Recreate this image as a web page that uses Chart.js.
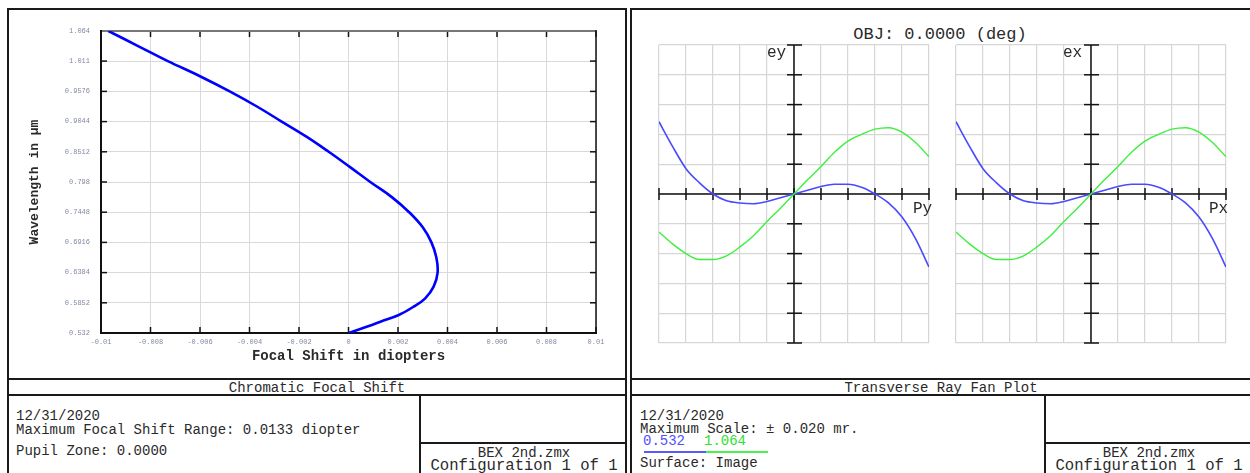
<!DOCTYPE html>
<html lang="en">
<head>
<meta charset="UTF-8">
<title>Chromatic Focal Shift / Transverse Ray Fan Plot</title>
<script src="https://cdn.jsdelivr.net/npm/chart.js"></script>
<style>
  body {
    margin: 0;
    width: 1250px;
    height: 473px;
    overflow: hidden;
    position: relative;
    background: #fff;
    font-family: "Liberation Mono", "DejaVu Sans Mono", monospace;
    color: #2a2a2a;
  }
  .box { position: absolute; border: 2px solid #1a1a1a; box-sizing: border-box; }
  .hl { position: absolute; height: 2px; background: #1a1a1a; }
  .vl { position: absolute; width: 2px; background: #1a1a1a; }
  .txt { position: absolute; font-size: 14px; line-height: 14px; white-space: pre; }
  .cfg { font-size: 15.6px; line-height: 15px; }
  .lbl { position: absolute; font-size: 16px; line-height: 16px; white-space: pre; }
  canvas { position: absolute; }
</style>
</head>
<body>

<!-- left window: chromatic focal shift -->
<div class="box" style="left:7px; top:8px; width:620px; height:480px;"></div>
<div class="hl" style="left:7px; top:378px; width:620px;"></div>
<div class="hl" style="left:7px; top:394px; width:620px;"></div>
<div class="vl" style="left:419px; top:394px; height:80px;"></div>
<div class="hl" style="left:419px; top:442px; width:208px;"></div>
<div class="txt" style="left:7px; width:620px; text-align:center; top:381px;">Chromatic Focal Shift</div>
<div class="txt" style="left:16px; top:409px;">12/31/2020</div>
<div class="txt" style="left:16px; top:423px;">Maximum Focal Shift Range: 0.0133 diopter</div>
<div class="txt" style="left:16px; top:444px;">Pupil Zone: 0.0000</div>
<div class="txt" style="left:421px; width:206px; text-align:center; top:446px;">BEX 2nd.zmx</div>
<div class="txt cfg" style="left:421px; width:206px; text-align:center; top:459px;">Configuration 1 of 1</div>
<canvas id="shiftChart" width="617" height="369" style="left:8px; top:9px;"></canvas>

<!-- right window: ray fan -->
<div class="box" style="left:630px; top:8px; width:630px; height:480px;"></div>
<div class="hl" style="left:630px; top:378px; width:622px;"></div>
<div class="hl" style="left:630px; top:394px; width:622px;"></div>
<div class="vl" style="left:1044px; top:394px; height:80px;"></div>
<div class="hl" style="left:1044px; top:442px; width:210px;"></div>
<div class="txt" style="left:630px; width:622px; text-align:center; top:381px;">Transverse Ray Fan Plot</div>
<div class="txt" style="left:640px; top:409px;">12/31/2020</div>
<div class="txt" style="left:640px; top:422px;">Maximum Scale: &plusmn; 0.020 mr.</div>
<div class="txt" style="left:643px; top:434px; color:#4f4fff;">0.532</div>
<div class="txt" style="left:704px; top:434px; color:#2fe02f;">1.064</div>
<div style="position:absolute; left:644px; top:451px; width:62px; height:2px; background:#5a5aff;"></div>
<div style="position:absolute; left:706px; top:451px; width:62px; height:2px; background:#4cf04c;"></div>
<div class="txt" style="left:640px; top:456px;">Surface: Image</div>
<div class="txt" style="left:1046px; width:206px; text-align:center; top:446px;">BEX 2nd.zmx</div>
<div class="txt cfg" style="left:1046px; width:206px; text-align:center; top:459px;">Configuration 1 of 1</div>

<div class="txt" style="left:640px; width:600px; text-align:center; top:26px; font-size:17px; line-height:17px;">OBJ: 0.0000 (deg)</div>
<canvas id="fanY" width="290" height="318" style="left:649px; top:35px;"></canvas>
<canvas id="fanX" width="290" height="318" style="left:946px; top:35px;"></canvas>
<div class="lbl" style="left:767px; top:45px;">ey</div>
<div class="lbl" style="left:913px; top:201px;">Py</div>
<div class="lbl" style="left:1063px; top:45px;">ex</div>
<div class="lbl" style="left:1209px; top:201px;">Px</div>

<script>
// wavelength axis (um) and focal shift axis (diopters)
const waveTicks = ['0.532', '0.5852', '0.6384', '0.6916', '0.7448', '0.798', '0.8512', '0.9044', '0.9576', '1.011', '1.064'];
const shiftTicks = ['-0.01', '-0.008', '-0.006', '-0.004', '-0.002', '0', '0.002', '0.004', '0.006', '0.008', '0.01'];

const wavelength = [1.064, 1.0375, 1.011, 0.9843, 0.9576, 0.931, 0.9044, 0.8778, 0.8512, 0.8246, 0.798,
  0.7714, 0.7448, 0.7182, 0.6916, 0.665, 0.6384, 0.6136, 0.5931, 0.5783, 0.5637, 0.5519, 0.5443, 0.532];
const focalShift = [-0.0097, -0.0085, -0.0073, -0.0060, -0.0048, -0.0037, -0.0027, -0.0017, -0.0008, 0.00005, 0.00088,
  0.00175, 0.00245, 0.0030, 0.00335, 0.00355, 0.0036, 0.00344, 0.0031, 0.00263, 0.00203, 0.00129, 0.00082, 0.0];

// ray fan: relative pupil coordinate vs aberration (mr), same curves for ey/Py and ex/Px
const pupil = [-1.0, -0.9, -0.8, -0.7, -0.6, -0.5, -0.4, -0.3, -0.2, -0.1, 0.0,
  0.1, 0.2, 0.3, 0.4, 0.5, 0.6, 0.7, 0.8, 0.9, 1.0];
const fan532 = [0.0097, 0.0064, 0.0034, 0.0015, 0.0, -0.0009, -0.0012, -0.0013, -0.0010, -0.0005, 0.0,
  0.0005, 0.0010, 0.0013, 0.0013, 0.0009, 0.0, -0.0012, -0.0031, -0.0060, -0.0098];
const fan1064 = [-0.0051, -0.0067, -0.0080, -0.0088, -0.0088, -0.0083, -0.0071, -0.0056, -0.0037, -0.0019, 0.0,
  0.0019, 0.0037, 0.0056, 0.0071, 0.0080, 0.0087, 0.0089, 0.0083, 0.0069, 0.0050];
const fanScale = 0.02;

const mono = '"Liberation Mono", "DejaVu Sans Mono", monospace';

function seg(ctx, x1, y1, x2, y2) {
  ctx.beginPath();
  ctx.moveTo(x1, y1);
  ctx.lineTo(x2, y2);
  ctx.stroke();
}

// frame with inward tick marks on all four sides
const shiftFrame = {
  id: 'shiftFrame',
  beforeDatasetsDraw(chart) {
    const { ctx, chartArea: a, scales: { x, y } } = chart;
    ctx.save();
    ctx.strokeStyle = '#111';
    ctx.lineWidth = 1.5;
    x.ticks.forEach(t => {
      const px = x.getPixelForValue(t.value);
      seg(ctx, px, a.bottom, px, a.bottom - 6);
      seg(ctx, px, a.top, px, a.top + 6);
    });
    y.ticks.forEach(t => {
      const py = y.getPixelForValue(t.value);
      seg(ctx, a.left, py, a.left + 6, py);
      seg(ctx, a.right, py, a.right - 6, py);
    });
    ctx.lineWidth = 2;
    ctx.strokeStyle = '#777';
    seg(ctx, a.left, a.top, a.right, a.top);
    ctx.strokeStyle = '#111';
    seg(ctx, a.left, a.top - 1, a.left, a.bottom);
    seg(ctx, a.left - 1, a.bottom, a.right + 1, a.bottom);
    ctx.lineWidth = 1.5;
    seg(ctx, a.right, a.top - 1, a.right, a.bottom);
    ctx.restore();
  }
};

new Chart(document.getElementById('shiftChart'), {
  type: 'scatter',
  data: {
    datasets: [{
      data: wavelength.map((w, i) => ({ x: focalShift[i], y: w })),
      showLine: true,
      borderColor: '#0000ff',
      borderWidth: 2.6,
      pointRadius: 0,
      tension: 0.4
    }]
  },
  options: {
    responsive: false,
    animation: false,
    layout: { padding: { top: 22, right: 29, left: 0, bottom: 0 } },
    plugins: { legend: { display: false }, tooltip: { enabled: false } },
    scales: {
      x: {
        type: 'linear',
        min: -0.01,
        max: 0.01,
        afterBuildTicks: s => { s.ticks = shiftTicks.map(v => ({ value: parseFloat(v) })); },
        afterFit: s => { s.height = 45; },
        ticks: {
          callback: (v, i) => shiftTicks[i],
          font: { size: 7, family: mono },
          color: '#8089a3',
          padding: 5,
          maxRotation: 0,
          autoSkip: false
        },
        grid: { color: '#d9d9d9', lineWidth: 1, drawTicks: false },
        border: { display: false },
        title: {
          display: true,
          text: 'Focal Shift in diopters',
          font: { size: 14, family: mono, weight: 'bold' },
          color: '#2a2a2a',
          padding: { top: 0, bottom: 13 }
        }
      },
      y: {
        type: 'linear',
        min: 0.532,
        max: 1.064,
        afterBuildTicks: s => { s.ticks = waveTicks.map(v => ({ value: parseFloat(v) })); },
        afterFit: s => { s.width = 93; },
        ticks: {
          callback: (v, i) => waveTicks[i],
          font: { size: 7, family: mono },
          color: '#8089a3',
          padding: 11,
          autoSkip: false
        },
        grid: { color: '#d9d9d9', lineWidth: 1, drawTicks: false },
        border: { display: false },
        title: {
          display: true,
          text: 'Wavelength in \u00b5m',
          font: { size: 13, family: mono, weight: 'bold' },
          color: '#2a2a2a',
          padding: { top: 19, bottom: 0 }
        }
      }
    }
  },
  plugins: [shiftFrame]
});

// central cross axes with tick marks
const fanAxes = {
  id: 'fanAxes',
  beforeDatasetsDraw(chart) {
    const { ctx, chartArea: a, scales: { x, y } } = chart;
    const x0 = x.getPixelForValue(0);
    const y0 = y.getPixelForValue(0);
    ctx.save();
    ctx.strokeStyle = '#111';
    ctx.lineWidth = 1.5;
    seg(ctx, a.left, y0, a.right, y0);
    seg(ctx, x0, a.top, x0, a.bottom);
    x.ticks.forEach(t => {
      const px = x.getPixelForValue(t.value);
      seg(ctx, px, y0 - 6, px, y0 + 6);
    });
    y.ticks.forEach(t => {
      if (Math.abs(t.value) < 1e-9) return;
      const py = y.getPixelForValue(t.value);
      seg(ctx, x0 - 7, py, x0 + 8, py);
    });
    ctx.restore();
  }
};

function fanChart(id) {
  return new Chart(document.getElementById(id), {
    type: 'scatter',
    data: {
      datasets: [
        {
          data: pupil.map((p, i) => ({ x: p, y: fan1064[i] })),
          showLine: true,
          borderColor: '#3ef03e',
          borderWidth: 1.4,
          pointRadius: 0,
          cubicInterpolationMode: 'monotone'
        },
        {
          data: pupil.map((p, i) => ({ x: p, y: fan532[i] })),
          showLine: true,
          borderColor: '#4a4aff',
          borderWidth: 1.6,
          pointRadius: 0,
          cubicInterpolationMode: 'monotone'
        }
      ]
    },
    options: {
      responsive: false,
      animation: false,
      layout: { padding: 10 },
      plugins: { legend: { display: false }, tooltip: { enabled: false } },
      scales: {
        x: {
          type: 'linear',
          min: -1,
          max: 1,
          afterFit: s => { s.height = 0; },
          ticks: { stepSize: 0.2, display: false },
          grid: { color: '#d6d6d6', lineWidth: 1.2, drawTicks: false },
          border: { display: false }
        },
        y: {
          type: 'linear',
          min: -fanScale,
          max: fanScale,
          afterFit: s => { s.width = 0; },
          ticks: { stepSize: fanScale / 5, display: false },
          grid: { color: '#d6d6d6', lineWidth: 1.2, drawTicks: false },
          border: { display: false }
        }
      }
    },
    plugins: [fanAxes]
  });
}

fanChart('fanY');
fanChart('fanX');
</script>
</body>
</html>
